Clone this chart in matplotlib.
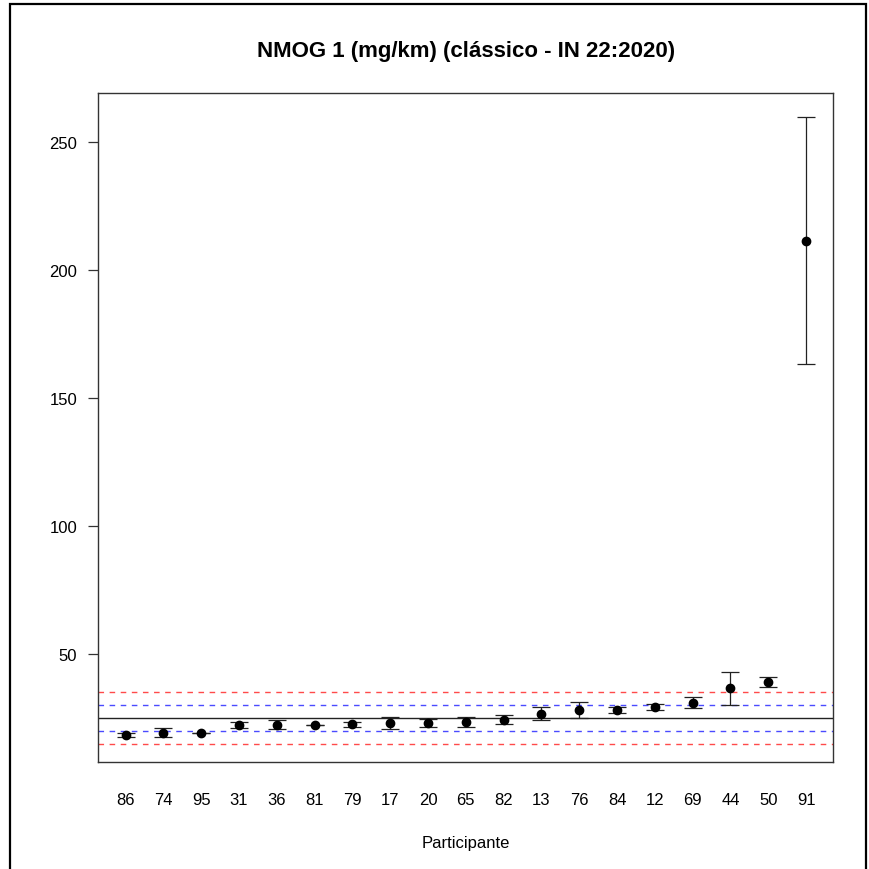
import matplotlib
matplotlib.use("Agg")
import matplotlib.pyplot as plt
from matplotlib.lines import Line2D
import numpy as np

participants = ["86", "74", "95", "31", "36", "81", "79", "17", "20", "65",
                "82", "13", "76", "84", "12", "69", "44", "50", "91"]
values = [18.5, 19.3, 19.3, 22.2, 22.3, 22.3, 22.5, 23.0, 23.0, 23.3,
          24.3, 26.6, 28.2, 28.2, 29.3, 31.0, 36.6, 38.9, 211.3]
uncert = [0.8, 1.7, 0.0, 1.2, 1.8, 0.0, 0.9, 2.3, 1.6, 1.9,
          1.7, 2.5, 3.1, 1.1, 1.1, 2.2, 6.5, 2.0, 48.1]
ref_value = 25.0
inner_limits = [20.0, 30.0]
outer_limits = [15.0, 35.0]
yticks = [50, 100, 150, 200, 250]

plt.rcParams['font.family'] = ['Liberation Sans', 'DejaVu Sans']

W, H = 869, 870
fig = plt.figure(figsize=(W / 100, H / 100), dpi=100)
ax_l, ax_r, ax_t, ax_b = 98.3, 833.3, 93.7, 762.7
ax = fig.add_axes([ax_l / W, 1 - ax_b / H, (ax_r - ax_l) / W, (ax_b - ax_t) / H])

x = np.arange(1, len(participants) + 1)
vals = np.array(values)
unc = np.array(uncert)

ax.errorbar(x, vals, yerr=unc, fmt='o', color='black', ms=6, ecolor='#222222',
            elinewidth=0.9, capsize=6.5, capthick=0.9, zorder=3)

lw = 1.0
ax.axhline(ref_value, color='#222222', lw=lw, zorder=2)
for v in inner_limits:
    ax.axhline(v, color='#4a4aff', lw=lw, linestyle=(0, (4, 4)), zorder=2)
for v in outer_limits:
    ax.axhline(v, color='#ff4a4a', lw=lw, linestyle=(0, (4, 4)), zorder=2)

lo = min(vals - unc)
hi = max(vals + unc)
r = hi - lo
ax.set_ylim(lo - 0.04 * r, hi + 0.04 * r)
xr = x[-1] - x[0]
ax.set_xlim(x[0] - 0.04 * xr, x[-1] + 0.04 * xr)

ax.set_xticks(x)
ax.set_xticklabels(participants, fontsize=12)
ax.tick_params(axis='x', length=0, pad=22)
ax.set_yticks(yticks)
ax.set_yticklabels([str(t) for t in yticks], fontsize=12)
ax.tick_params(axis='y', length=7.2, width=0.9, pad=8, color='#333333')

for s in ax.spines.values():
    s.set_color('#333333')
    s.set_linewidth(1.0)

ax.set_xlabel("Participante", fontsize=12, labelpad=20)
fig.text((ax_l + ax_r) / 2 / W, 1 - 52 / H, "NMOG 1 (mg/km) (clássico - IN 22:2020)",
         ha='center', va='center', fontsize=16, fontweight='bold')

# outer frame (left, top, right)
fx = [10 / W, 10 / W, 866 / W, 866 / W]
fy = [0.0, 1 - 5 / H, 1 - 5 / H, 0.0]
fig.lines.append(Line2D(fx, fy, transform=fig.transFigure, color='black', lw=1.6,
                        solid_joinstyle='miter'))

fig.savefig("out.png", dpi=100)
